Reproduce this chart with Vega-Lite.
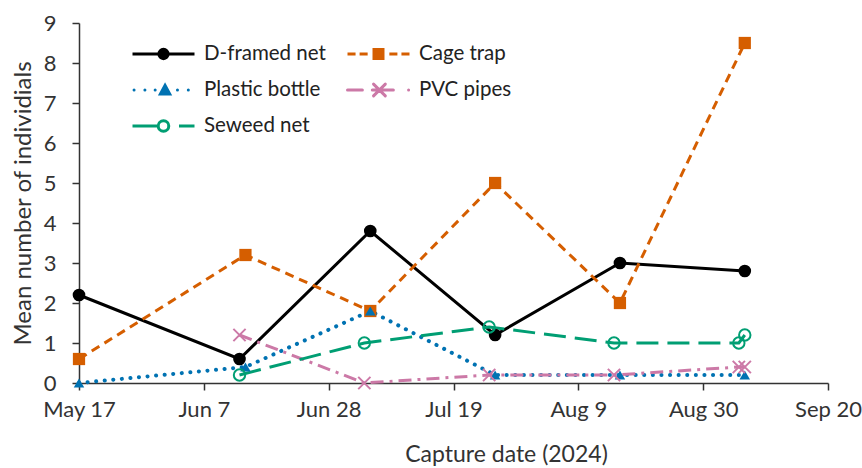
{
  "$schema": "https://vega.github.io/schema/vega-lite/v6.json",
  "width": 749,
  "height": 360,
  "autosize": {"type": "none"},
  "padding": {"left": 79, "top": 23, "right": 34, "bottom": 85},
  "background": "white",
  "config": {
    "view": {"stroke": null},
    "font": "Lato",
    "axis": {
      "grid": false,
      "domainColor": "#333333",
      "domainWidth": 1.5,
      "tickColor": "#333333",
      "tickWidth": 1.5,
      "tickSize": 7,
      "labelFont": "Lato",
      "labelFontSize": 22,
      "labelColor": "#333333",
      "titleFont": "Lato",
      "titleFontSize": 23,
      "titleFontWeight": "normal",
      "titleColor": "#333333"
    }
  },
  "data": {
    "values": [
      {"date": "2024-05-17", "method": "D-framed net", "value": 2.2},
      {"date": "2024-06-13", "method": "D-framed net", "value": 0.6},
      {"date": "2024-07-05", "method": "D-framed net", "value": 3.8},
      {"date": "2024-07-26", "method": "D-framed net", "value": 1.2},
      {"date": "2024-08-16", "method": "D-framed net", "value": 3.0},
      {"date": "2024-09-06", "method": "D-framed net", "value": 2.8},
      {"date": "2024-05-17", "method": "Cage trap", "value": 0.6},
      {"date": "2024-06-14", "method": "Cage trap", "value": 3.2},
      {"date": "2024-07-05", "method": "Cage trap", "value": 1.8},
      {"date": "2024-07-26", "method": "Cage trap", "value": 5.0},
      {"date": "2024-08-16", "method": "Cage trap", "value": 2.0},
      {"date": "2024-09-06", "method": "Cage trap", "value": 8.5},
      {"date": "2024-05-17", "method": "Plastic bottle", "value": 0},
      {"date": "2024-06-14", "method": "Plastic bottle", "value": 0.4},
      {"date": "2024-07-05", "method": "Plastic bottle", "value": 1.8},
      {"date": "2024-07-26", "method": "Plastic bottle", "value": 0.2},
      {"date": "2024-08-16", "method": "Plastic bottle", "value": 0.2},
      {"date": "2024-09-06", "method": "Plastic bottle", "value": 0.2},
      {"date": "2024-06-13", "method": "PVC pipes", "value": 1.2},
      {"date": "2024-07-04", "method": "PVC pipes", "value": 0},
      {"date": "2024-07-25", "method": "PVC pipes", "value": 0.2},
      {"date": "2024-08-15", "method": "PVC pipes", "value": 0.2},
      {"date": "2024-09-05", "method": "PVC pipes", "value": 0.4},
      {"date": "2024-09-06", "method": "PVC pipes", "value": 0.4},
      {"date": "2024-06-13", "method": "Seweed net", "value": 0.2},
      {"date": "2024-07-04", "method": "Seweed net", "value": 1.0},
      {"date": "2024-07-25", "method": "Seweed net", "value": 1.4},
      {"date": "2024-08-15", "method": "Seweed net", "value": 1.0},
      {"date": "2024-09-05", "method": "Seweed net", "value": 1.0},
      {"date": "2024-09-06", "method": "Seweed net", "value": 1.2}
    ]
  },
  "encoding": {
    "x": {
      "field": "date",
      "type": "temporal",
      "scale": {
        "type": "utc",
        "domain": [
          {"year": 2024, "month": "may", "date": 17, "utc": true},
          {"year": 2024, "month": "sep", "date": 20, "utc": true}
        ]
      },
      "axis": {
        "title": "Capture date (2024)",
        "values": [
          {"year": 2024, "month": "may", "date": 17, "utc": true},
          {"year": 2024, "month": "jun", "date": 7, "utc": true},
          {"year": 2024, "month": "jun", "date": 28, "utc": true},
          {"year": 2024, "month": "jul", "date": 19, "utc": true},
          {"year": 2024, "month": "aug", "date": 9, "utc": true},
          {"year": 2024, "month": "aug", "date": 30, "utc": true},
          {"year": 2024, "month": "sep", "date": 20, "utc": true}
        ],
        "labelExpr": "['Jan','Feb','Mar','Apr','May','Jun','Jul','Aug','Sep','Oct','Nov','Dec'][utcmonth(datum.value)] + ' ' + utcdate(datum.value)",
        "labelPadding": 9,
        "labelFlush": false,
        "labelOverlap": false,
        "titleX": 427,
        "titleY": 60,
        "titleBaseline": "top",
        "titleAnchor": "middle"
      }
    },
    "y": {
      "field": "value",
      "type": "quantitative",
      "scale": {"domain": [0, 9], "nice": false, "zero": true},
      "axis": {
        "title": "Mean number of individials",
        "titleFontSize": 24,
        "values": [0, 1, 2, 3, 4, 5, 6, 7, 8, 9],
        "labelPadding": 16,
        "titlePadding": 8
      }
    }
  },
  "layer": [
    {
      "transform": [{"filter": "datum.method === 'D-framed net'"}],
      "mark": {"type": "line", "strokeWidth": 3, "strokeCap": "butt"},
      "encoding": {
        "color": {
          "field": "method",
          "type": "nominal",
          "scale": {
            "domain": ["D-framed net", "Cage trap", "Plastic bottle", "PVC pipes", "Seweed net"],
            "range": ["#000000", "#D55E00", "#0072B2", "#CC79A7", "#009E73"]
          },
          "legend": {
            "orient": "none",
            "legendX": 52,
            "legendY": 20,
            "direction": "horizontal",
            "columns": 2,
            "title": null,
            "symbolSize": 3844,
            "symbolStrokeWidth": 3,
            "clipHeight": 22,
            "labelFontSize": 20.5,
            "labelFont": "Lato",
            "labelColor": "#222222",
            "labelOffset": 8,
            "columnPadding": 20,
            "rowPadding": 14,
            "encode": {
              "symbols": {
                "update": {
                  "shape": {"signal": "datum.value === 'D-framed net' ? 'M-1,0H1M-0.15,0A0.15,0.15,0,1,1,0.15,0A0.15,0.15,0,1,1,-0.15,0Z' : datum.value === 'Cage trap' ? 'M-1,0H-0.74M-0.61,0H-0.35M0.35,0H0.61M0.74,0H1M-0.145,-0.145H0.145V0.145H-0.145Z' : datum.value === 'Plastic bottle' ? 'M-0.95,0h0.001M-0.6,0h0.001M-0.27,0h0.001M0.45,0h0.001M0.8,0h0.001M-0.1,0.13L0.2,0.13L0.05,-0.15Z' : datum.value === 'PVC pipes' ? 'M-1,0H-0.52M-0.2,0H0.48M0.97,0h0.001M-0.16,-0.19L0.22,0.19M-0.16,0.19L0.22,-0.19' : 'M-1,0H-0.2M0.5,0H1M-0.17,0A0.17,0.17,0,1,1,0.17,0A0.17,0.17,0,1,1,-0.17,0ZM-0.17,0A0.17,0.17,0,1,0,0.17,0A0.17,0.17,0,1,0,-0.17,0Z'"},
                  "fill": {"signal": "datum.value === 'D-framed net' ? '#000000' : datum.value === 'Cage trap' ? '#D55E00' : datum.value === 'Plastic bottle' ? '#0072B2' : datum.value === 'PVC pipes' ? '#CC79A7' : '#ffffff'"},
                  "stroke": {"signal": "datum.value === 'D-framed net' ? '#000000' : datum.value === 'Cage trap' ? '#D55E00' : datum.value === 'Plastic bottle' ? '#0072B2' : datum.value === 'PVC pipes' ? '#CC79A7' : '#009E73'"},
                  "strokeDash": {"value": []},
                  "strokeWidth": {"value": 3},
                  "strokeCap": {"signal": "datum.value === 'Plastic bottle' || datum.value === 'PVC pipes' ? 'round' : 'butt'"},
                  "opacity": {"value": 1},
                  "fillOpacity": {"value": 1},
                  "strokeOpacity": {"value": 1},
                  "size": {"value": 3844}
                }
              }
            }
          }
        }
      }
    },
    {
      "transform": [{"filter": "datum.method === 'Cage trap'"}],
      "mark": {"type": "line", "strokeWidth": 3, "strokeCap": "butt", "strokeDash": [9, 6]},
      "encoding": {"color": {"field": "method", "type": "nominal"}}
    },
    {
      "transform": [{"filter": "datum.method === 'Plastic bottle'"}],
      "mark": {"type": "line", "strokeWidth": 4, "strokeCap": "round", "strokeDash": [0.1, 8.5]},
      "encoding": {"color": {"field": "method", "type": "nominal"}}
    },
    {
      "transform": [{"filter": "datum.method === 'PVC pipes'"}],
      "mark": {"type": "line", "strokeWidth": 3, "strokeCap": "butt", "strokeDash": [13, 6, 3, 6]},
      "encoding": {"color": {"field": "method", "type": "nominal"}}
    },
    {
      "transform": [{"filter": "datum.method === 'Seweed net'"}],
      "mark": {"type": "line", "strokeWidth": 3, "strokeCap": "butt", "strokeDash": [22, 9]},
      "encoding": {"color": {"field": "method", "type": "nominal"}}
    },
    {
      "transform": [{"filter": "datum.method === 'D-framed net'"}],
      "mark": {"type": "point", "shape": "circle", "filled": true, "size": 160, "opacity": 1},
      "encoding": {"color": {"field": "method", "type": "nominal"}}
    },
    {
      "transform": [{"filter": "datum.method === 'Cage trap'"}],
      "mark": {"type": "point", "shape": "square", "filled": true, "size": 150, "opacity": 1},
      "encoding": {"color": {"field": "method", "type": "nominal"}}
    },
    {
      "transform": [{"filter": "datum.method === 'Plastic bottle'"}],
      "mark": {"type": "point", "shape": "triangle-up", "filled": true, "size": 110, "opacity": 1},
      "encoding": {"color": {"field": "method", "type": "nominal"}}
    },
    {
      "transform": [{"filter": "datum.method === 'PVC pipes'"}],
      "mark": {"type": "point", "shape": "M-1,-1L1,1M-1,1L1,-1", "filled": false, "strokeWidth": 2, "size": 150, "opacity": 1},
      "encoding": {"color": {"field": "method", "type": "nominal"}}
    },
    {
      "transform": [{"filter": "datum.method === 'Seweed net'"}],
      "mark": {"type": "point", "shape": "circle", "filled": false, "strokeWidth": 2, "size": 130, "opacity": 1},
      "encoding": {"color": {"field": "method", "type": "nominal"}}
    }
  ]
}
